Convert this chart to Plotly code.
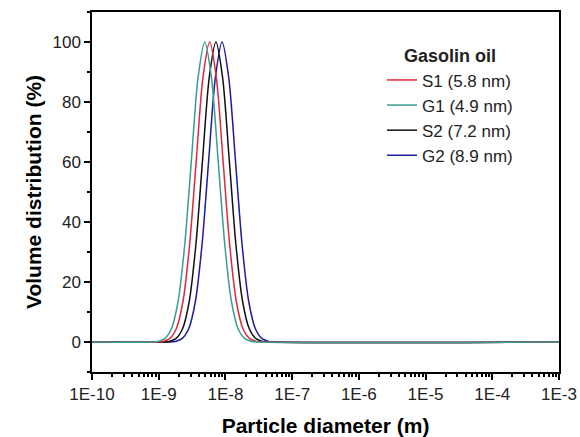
import plotly.graph_objects as go

# Diameters in nm, values in % volume
s1_d = [0.1, 0.919, 1.157, 1.457, 1.834, 2.309, 2.907, 3.659, 4.607, 5.8, 7.302, 9.193, 11.57, 14.57, 18.34, 23.09, 29.07, 36.60, 1e6]
s1_v = [0, 0, 0.2, 1.1, 4.4, 13.5, 32.5, 60.7, 88.2, 100, 88.2, 60.7, 32.5, 13.5, 4.4, 1.1, 0.2, 0, 0]

g1_d = [0.1, 0.777, 0.978, 1.231, 1.550, 1.951, 2.456, 3.092, 3.892, 4.9, 6.169, 7.766, 9.777, 12.31, 15.49, 19.51, 24.56, 30.92, 1e6]
g1_v = [0, 0, 0.2, 1.1, 4.4, 13.5, 32.5, 60.7, 88.2, 100, 88.2, 60.7, 32.5, 13.5, 4.4, 1.1, 0.2, 0, 0]

s2_d = [0.1, 1.141, 1.437, 1.809, 2.277, 2.866, 3.609, 4.543, 5.719, 7.2, 9.064, 11.41, 14.36, 18.09, 22.77, 28.66, 36.09, 45.43, 1e6]
s2_v = [0, 0, 0.2, 1.1, 4.4, 13.5, 32.5, 60.7, 88.2, 100, 88.2, 60.7, 32.5, 13.5, 4.4, 1.1, 0.2, 0, 0]

g2_d = [0.1, 1.410, 1.776, 2.236, 2.815, 3.543, 4.461, 5.615, 7.069, 8.9, 11.20, 14.11, 17.76, 22.36, 28.14, 35.43, 44.61, 56.16, 1e6]
g2_v = [0, 0, 0.2, 1.1, 4.4, 13.5, 32.5, 60.7, 88.2, 100, 88.2, 60.7, 32.5, 13.5, 4.4, 1.1, 0.2, 0, 0]

x_tickvals = [1e-10, 1e-9, 1e-8, 1e-7, 1e-6, 1e-5, 1e-4, 1e-3]
x_ticktext = ["1E-10", "1E-9", "1E-8", "1E-7", "1E-6", "1E-5", "1E-4", "1E-3"]
y_tickvals = [0, 20, 40, 60, 80, 100]

series = [
    ("G2 (8.9 nm)", g2_d, g2_v, "#1c1c9c", 4),
    ("S2 (7.2 nm)", s2_d, s2_v, "#111111", 3),
    ("S1 (5.8 nm)", s1_d, s1_v, "#e0283a", 1),
    ("G1 (4.9 nm)", g1_d, g1_v, "#3a9e92", 2),
]

fig = go.Figure()
for name, d, v, color, rank in series:
    fig.add_trace(go.Scatter(
        x=[di * 1e-9 for di in d], y=v, mode="lines", name=name,
        line=dict(color=color, width=1.5, shape="spline", smoothing=0.8),
        legendrank=rank,
    ))

font = "Liberation Sans, Arial, sans-serif"
fig.update_layout(
    width=580, height=437,
    margin=dict(l=92, r=21, t=12, b=65),
    paper_bgcolor="white", plot_bgcolor="white",
    font=dict(family=font, size=16, color="#222222"),
    showlegend=True,
    legend=dict(
        x=0.621, y=0.925, xanchor="left", yanchor="top",
        bgcolor="rgba(0,0,0,0)", font=dict(size=17, color="#222222"),
        title=dict(text="<b>Gasolin oil</b>", side="top center", font=dict(size=18)),
        tracegroupgap=0, itemwidth=30,
    ),
    xaxis=dict(
        type="log", range=[-10, -3], automargin=False,
        tickvals=x_tickvals, ticktext=x_ticktext,
        ticks="outside", ticklen=6, tickwidth=1.5, tickcolor="black",
        showline=True, linecolor="black", linewidth=1.5, mirror=True,
        showgrid=False, zeroline=False,
        minor=dict(ticks="outside", ticklen=3, tickcolor="black", dtick="D1", showgrid=False),
        title=dict(text="<b>Particle diameter (m)</b>", font=dict(size=21, color="black"), standoff=21),
        tickfont=dict(size=17),
    ),
    yaxis=dict(
        range=[-10, 110], automargin=False,
        tickvals=y_tickvals,
        ticks="outside", ticklen=6, tickwidth=1.5, tickcolor="black",
        showline=True,
        linecolor="black", linewidth=1.5, mirror=True,
        showgrid=False, zeroline=False,
        minor=dict(ticks="outside", ticklen=3, tickcolor="black", dtick=10, tick0=10, showgrid=False),
        title=dict(text="<b>Volume distribution (%)</b>", font=dict(size=21, color="black"), standoff=5),
        tickfont=dict(size=17),
    ),
)

fig.write_html("out.html")
